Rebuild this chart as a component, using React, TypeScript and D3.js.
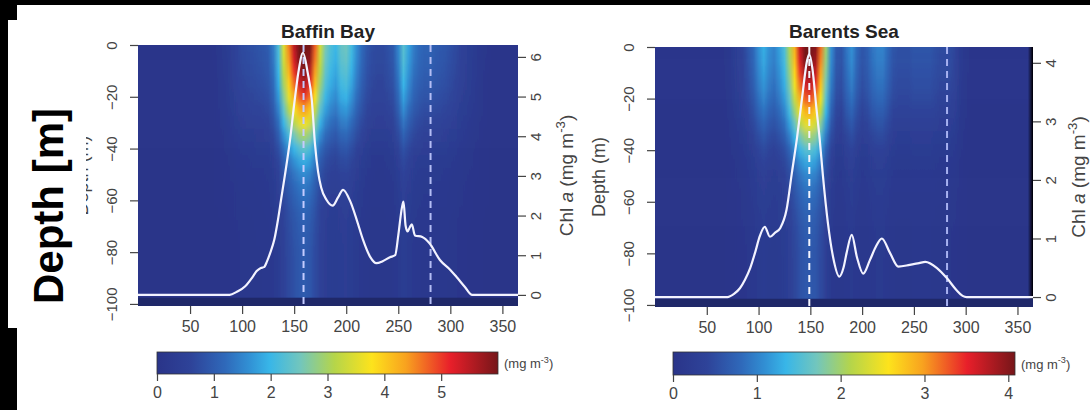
import { useEffect, useRef } from 'react';
import * as d3 from 'd3';

const W = 1090;
const H = 410;
const FONT = 'Liberation Sans, Arial, Helvetica, sans-serif';

const DAY_TICKS = [50, 100, 150, 200, 250, 300, 350];
const DEPTH_TICKS = [0, -20, -40, -60, -80, -100];

// heatmap grid: surface value every 5 days, relative attenuation every 5 m
const HEAT_DAYS = d3.range(0, 366, 5);
const DEPTH_ROWS = [0, -5, -10, -15, -20, -25, -30, -35, -40, -45, -50, -55, -60, -65, -70, -75, -80, -85, -90, -95];
const ATTEN = [1, 0.97, 0.92, 0.86, 0.78, 0.68, 0.57, 0.46, 0.36, 0.29, 0.24, 0.21, 0.19, 0.17, 0.16, 0.155, 0.15, 0.15, 0.15, 0.15];

const BAFFIN_HEAT = [
  0.05, 0.05, 0.05, 0.05, 0.05, 0.05, 0.05, 0.05, 0.05, 0.05, 0.05, 0.05, 0.05, 0.05, 0.05,
  0.1, 0.2, 0.3, 0.45, 0.6, 0.7, 0.75, 0.8, 0.85, 0.9, 1.0, 1.4, 2.2, 3.5, 4.6,
  5.5, 6.2, 6.5, 6.0, 4.8, 3.4, 2.6, 2.2, 2.0, 2.4, 2.5, 2.1, 1.6, 1.2, 0.9,
  0.75, 0.7, 0.7, 0.8, 0.95, 1.5, 2.3, 1.8, 1.4, 1.2, 1.1, 1.1, 1.0, 0.95, 0.9,
  0.8, 0.7, 0.55, 0.45, 0.35, 0.25, 0.15, 0.1, 0.05, 0.05, 0.05, 0.05, 0.05, 0.05,
];
const BARENTS_HEAT = [
  0.05, 0.05, 0.05, 0.05, 0.05, 0.05, 0.05, 0.05, 0.05, 0.05, 0.05, 0.05, 0.05, 0.05,
  0.1, 0.2, 0.3, 0.4, 0.6, 0.8, 1.1, 1.3, 1.1, 1.0, 1.2, 1.5, 2.1, 2.9, 3.7,
  4.2, 4.3, 4.0, 3.2, 2.0, 1.1, 0.65, 0.6, 0.9, 1.1, 0.8, 0.6, 0.7, 0.9, 1.0,
  1.0, 0.8, 0.6, 0.55, 0.55, 0.55, 0.6, 0.6, 0.6, 0.6, 0.55, 0.5, 0.5, 0.5, 0.4,
  0.2, 0.1, 0.05, 0.05, 0.05, 0.05, 0.05, 0.05, 0.05, 0.05, 0.05, 0.05, 0.05, 0.05,
];

// surface Chl a line (right axis)
const BAFFIN_DAY = [0, 88, 95, 103, 110, 114, 118, 121, 124, 127, 131, 134.5, 138, 141, 146, 150, 154, 158.5, 163, 167, 170, 173, 176, 181, 187, 192, 197, 204, 210, 216, 223, 229, 235, 242, 247, 250, 253.5, 255, 257, 259, 261, 263, 266, 273, 280, 290, 300, 306, 314, 321, 365];
const BAFFIN_CHL = [0, 0, 0.08, 0.22, 0.45, 0.6, 0.68, 0.7, 0.85, 1.06, 1.4, 1.9, 2.5, 3.0, 3.9, 4.8, 5.6, 6.1, 5.6, 4.9, 3.8, 3.1, 2.7, 2.4, 2.25, 2.45, 2.65, 2.35, 1.9, 1.4, 0.96, 0.8, 0.85, 0.95, 1.0, 1.5, 2.2, 2.35, 1.75, 1.6, 1.7, 1.78, 1.5, 1.46, 1.3, 0.88, 0.63, 0.45, 0.2, 0, 0];
const BARENTS_DAY = [0, 70, 76, 82, 87, 92, 97, 101, 106, 111, 116, 121, 127, 132, 137, 142, 147, 149, 152, 156, 159, 162, 167, 172, 178, 182, 185, 190, 195, 201, 207.5, 213, 219, 227, 235, 246, 255, 261, 272, 282, 291, 297, 301, 365];
const BARENTS_CHL = [0, 0, 0.05, 0.15, 0.3, 0.5, 0.78, 1.03, 1.2, 1.03, 1.1, 1.18, 1.49, 2.1, 2.7, 3.4, 4.05, 4.15, 3.9, 3.2, 2.7, 2.1, 1.26, 0.68, 0.35, 0.5, 0.75, 1.06, 0.68, 0.4, 0.63, 0.85, 1.0, 0.75, 0.52, 0.55, 0.58, 0.6, 0.5, 0.32, 0.12, 0.02, 0, 0];

const BAFFIN_DASHES = [159, 281];
const BARENTS_DASHES = [149, 282];

const BAFFIN_CHL_TICKS = [0, 1, 2, 3, 4, 5, 6];
const BARENTS_CHL_TICKS = [0, 1, 2, 3, 4];
const BAFFIN_BAR_TICKS = [0, 1, 2, 3, 4, 5];
const BARENTS_BAR_TICKS = [0, 1, 2, 3, 4];

const JET_STOPS = [0, 0.1, 0.2, 0.27, 0.33, 0.42, 0.52, 0.63, 0.73, 0.86, 1];
const JET_COLORS = ['#2a3489', '#2e4399', '#2f69ba', '#3190d4', '#38b6e8', '#72c6bd', '#b5d54a', '#fde31c', '#f8a21f', '#e81f2a', '#761619'];

const PANELS = [
  {
    id: 'baffin', title: 'Baffin Bay', heat: BAFFIN_HEAT, day: BAFFIN_DAY, chl: BAFFIN_CHL,
    dashes: BAFFIN_DASHES, dashColors: ['#c4cbff', '#b4bdf5'],
    chlTicks: BAFFIN_CHL_TICKS, chlDomain: [-0.28, 6.3], cMax: 6, barTicks: BAFFIN_BAR_TICKS,
    left: 138, right: 518, top: 45, bottom: 306, chlLabelDx: 55,
    bar: { left: 157, right: 498, top: 352, bottom: 374 },
  },
  {
    id: 'barents', title: 'Barents Sea', heat: BARENTS_HEAT, day: BARENTS_DAY, chl: BARENTS_CHL,
    dashes: BARENTS_DASHES, dashColors: ['#f4f5ff', '#a7b1f0'],
    chlTicks: BARENTS_CHL_TICKS, chlDomain: [-0.17, 4.27], cMax: 4.08, barTicks: BARENTS_BAR_TICKS,
    left: 655, right: 1033, top: 47, bottom: 307, chlLabelDx: 52,
    bar: { left: 673, right: 1015, top: 352, bottom: 375 },
  },
];

function unitLabel(sel, size) {
  sel.append('tspan').text('(mg m');
  sel.append('tspan').text('-3').attr('font-size', size * 0.7).attr('dy', -size * 0.4);
  sel.append('tspan').text(')').attr('dy', size * 0.4);
}

function drawPanel(svg, defs, p) {
  const x = d3.scaleLinear().domain([0, 365]).range([p.left, p.right]);
  const yD = d3.scaleLinear().domain([0, -100.8]).range([p.top, p.bottom]);
  const yC = d3.scaleLinear().domain(p.chlDomain).range([p.bottom, p.top]);
  const color = d3.scaleLinear<string>()
    .domain(JET_STOPS.map(s => s * p.cMax))
    .range(JET_COLORS)
    .interpolate(d3.interpolateRgb)
    .clamp(true);

  DEPTH_ROWS.forEach((z, i) => {
    const grad = defs.append('linearGradient')
      .attr('id', `${p.id}-row${i}`)
      .attr('gradientUnits', 'userSpaceOnUse')
      .attr('x1', x(0)).attr('x2', x(365)).attr('y1', 0).attr('y2', 0);
    HEAT_DAYS.forEach((d, j) => {
      grad.append('stop')
        .attr('offset', (x(d) - x(0)) / (x(365) - x(0)))
        .attr('stop-color', color(p.heat[j] * ATTEN[i]));
    });
  });

  defs.append('clipPath').attr('id', `${p.id}-clip`)
    .append('rect')
    .attr('x', p.left).attr('y', p.top)
    .attr('width', p.right - p.left).attr('height', p.bottom - p.top);

  defs.append('filter').attr('id', `${p.id}-blur`)
    .attr('x', '-5%').attr('y', '-10%').attr('width', '110%').attr('height', '120%')
    .append('feGaussianBlur').attr('stdDeviation', '0.6 4.5');

  const clipG = svg.append('g').attr('clip-path', `url(#${p.id}-clip)`);
  const last = DEPTH_ROWS.length - 1;
  const rowTop = (z, i) => (i === 0 ? p.top - 25 : yD(z + 2.5));
  const rowBottom = (z, i) => (i === last ? p.bottom + 25 : yD(z - 2.5));

  clipG.append('g').attr('filter', `url(#${p.id}-blur)`)
    .selectAll('rect')
    .data(DEPTH_ROWS)
    .join('rect')
    .attr('x', x(0) - 10)
    .attr('width', x(365) - x(0) + 20)
    .attr('y', (z, i) => rowTop(z, i))
    .attr('height', (z, i) => rowBottom(z, i) - rowTop(z, i) + 0.5)
    .attr('fill', (z, i) => `url(#${p.id}-row${i})`);

  clipG.append('rect')
    .attr('x', p.left).attr('width', p.right - p.left)
    .attr('y', yD(-97.6)).attr('height', p.bottom - yD(-97.6))
    .attr('fill', '#1f2869');

  p.dashes.forEach((d, i) => {
    clipG.append('line')
      .attr('x1', x(d)).attr('x2', x(d))
      .attr('y1', p.top).attr('y2', p.bottom)
      .attr('stroke', p.dashColors[i])
      .attr('stroke-width', 2)
      .attr('stroke-dasharray', '7,5');
  });

  const pts = p.day.map((d, i) => [d, p.chl[i]]);
  const line = d3.line<number[]>()
    .x(d => x(d[0]))
    .y(d => yC(d[1]))
    .curve(d3.curveMonotoneX);
  clipG.append('path')
    .attr('d', line(pts))
    .attr('fill', 'none')
    .attr('stroke', '#f3f3ff')
    .attr('stroke-width', 2.2)
    .attr('stroke-linejoin', 'round');

  const styleAxis = (g, size) => {
    g.select('.domain').remove();
    g.selectAll('line').attr('stroke', '#444').attr('stroke-width', 1.2);
    g.selectAll('text').attr('fill', '#444').attr('font-family', FONT).attr('font-size', size);
  };

  const xAxis = svg.append('g')
    .attr('transform', `translate(0,${p.bottom})`)
    .call(d3.axisBottom(x).tickValues(DAY_TICKS).tickSize(8).tickPadding(7).tickFormat(d3.format('d')));
  styleAxis(xAxis, 16);

  const dAxis = svg.append('g')
    .attr('transform', `translate(${p.left},0)`)
    .call(d3.axisLeft(yD).tickValues(DEPTH_TICKS).tickSize(8).tickFormat(d => `${d < 0 ? '\u2212' : ''}${Math.abs(+d)}`));
  styleAxis(dAxis, 15);
  dAxis.selectAll('text')
    .attr('x', null).attr('dy', null)
    .attr('text-anchor', 'middle')
    .attr('transform', 'translate(-21,0) rotate(-90)');

  const cAxis = svg.append('g')
    .attr('transform', `translate(${p.right},0)`)
    .call(d3.axisRight(yC).tickValues(p.chlTicks).tickSize(8).tickFormat(d3.format('d')));
  styleAxis(cAxis, 15);
  cAxis.selectAll('text')
    .attr('x', null).attr('dy', null)
    .attr('text-anchor', 'middle')
    .attr('transform', 'translate(23,0) rotate(-90)');

  svg.append('text')
    .attr('x', (p.left + p.right) / 2).attr('y', 38)
    .attr('text-anchor', 'middle')
    .attr('font-family', FONT).attr('font-weight', 'bold').attr('font-size', 19)
    .attr('fill', '#222')
    .text(p.title);

  const midY = (p.top + p.bottom) / 2;
  svg.append('text')
    .attr('transform', `translate(${p.left - 50},${midY}) rotate(-90)`)
    .attr('text-anchor', 'middle')
    .attr('font-family', FONT).attr('font-size', 18).attr('fill', '#444')
    .text('Depth (m)');

  const chlLab = svg.append('text')
    .attr('transform', `translate(${p.right + p.chlLabelDx},${midY}) rotate(-90)`)
    .attr('text-anchor', 'middle')
    .attr('font-family', FONT).attr('font-size', 19).attr('fill', '#444');
  chlLab.append('tspan').text('Chl ');
  chlLab.append('tspan').text('a').attr('font-style', 'italic');
  chlLab.append('tspan').text(' ');
  unitLabel(chlLab, 19);

  // colour bar
  const b = p.bar;
  const cbX = d3.scaleLinear().domain([0, p.cMax]).range([b.left, b.right]);
  const cbGrad = defs.append('linearGradient').attr('id', `${p.id}-cb`);
  JET_STOPS.forEach((s, i) => cbGrad.append('stop').attr('offset', s).attr('stop-color', JET_COLORS[i]));
  svg.append('rect')
    .attr('x', b.left).attr('y', b.top)
    .attr('width', b.right - b.left).attr('height', b.bottom - b.top)
    .attr('fill', `url(#${p.id}-cb)`)
    .attr('stroke', '#333').attr('stroke-width', 0.8);
  const cbAxis = svg.append('g')
    .attr('transform', `translate(0,${b.bottom})`)
    .call(d3.axisBottom(cbX).tickValues(p.barTicks).tickSize(7).tickPadding(6).tickFormat(d3.format('d')));
  styleAxis(cbAxis, 16);
  const unit = svg.append('text')
    .attr('x', b.right + 6).attr('y', (b.top + b.bottom) / 2 + 5)
    .attr('font-family', FONT).attr('font-size', 13).attr('fill', '#444');
  unitLabel(unit, 13);
}

export default function App() {
  const svgRef = useRef<SVGSVGElement>(null);

  useEffect(() => {
    document.body.style.margin = '0';
    const svg = d3.select(svgRef.current);
    svg.selectAll('*').remove();
    const defs = svg.append('defs');

    svg.append('rect').attr('width', W).attr('height', H).attr('fill', '#000');
    svg.append('rect').attr('x', 17).attr('y', 5).attr('width', W - 17).attr('height', H - 5).attr('fill', '#fff');

    PANELS.forEach(p => drawPanel(svg, defs, p));

    // pasted-over axis title on the left
    svg.append('rect').attr('x', 8).attr('y', 20).attr('width', 78).attr('height', 308).attr('fill', '#fff');
    svg.append('text')
      .attr('transform', 'translate(63,206) rotate(-90)')
      .attr('text-anchor', 'middle')
      .attr('font-family', FONT).attr('font-weight', 'bold').attr('font-size', 42)
      .attr('fill', '#000')
      .text('Depth [m]');
  }, []);

  return (
    <svg ref={svgRef} width={W} height={H} style={{ display: 'block', position: 'absolute', left: 0, top: 0 }} />
  );
}
